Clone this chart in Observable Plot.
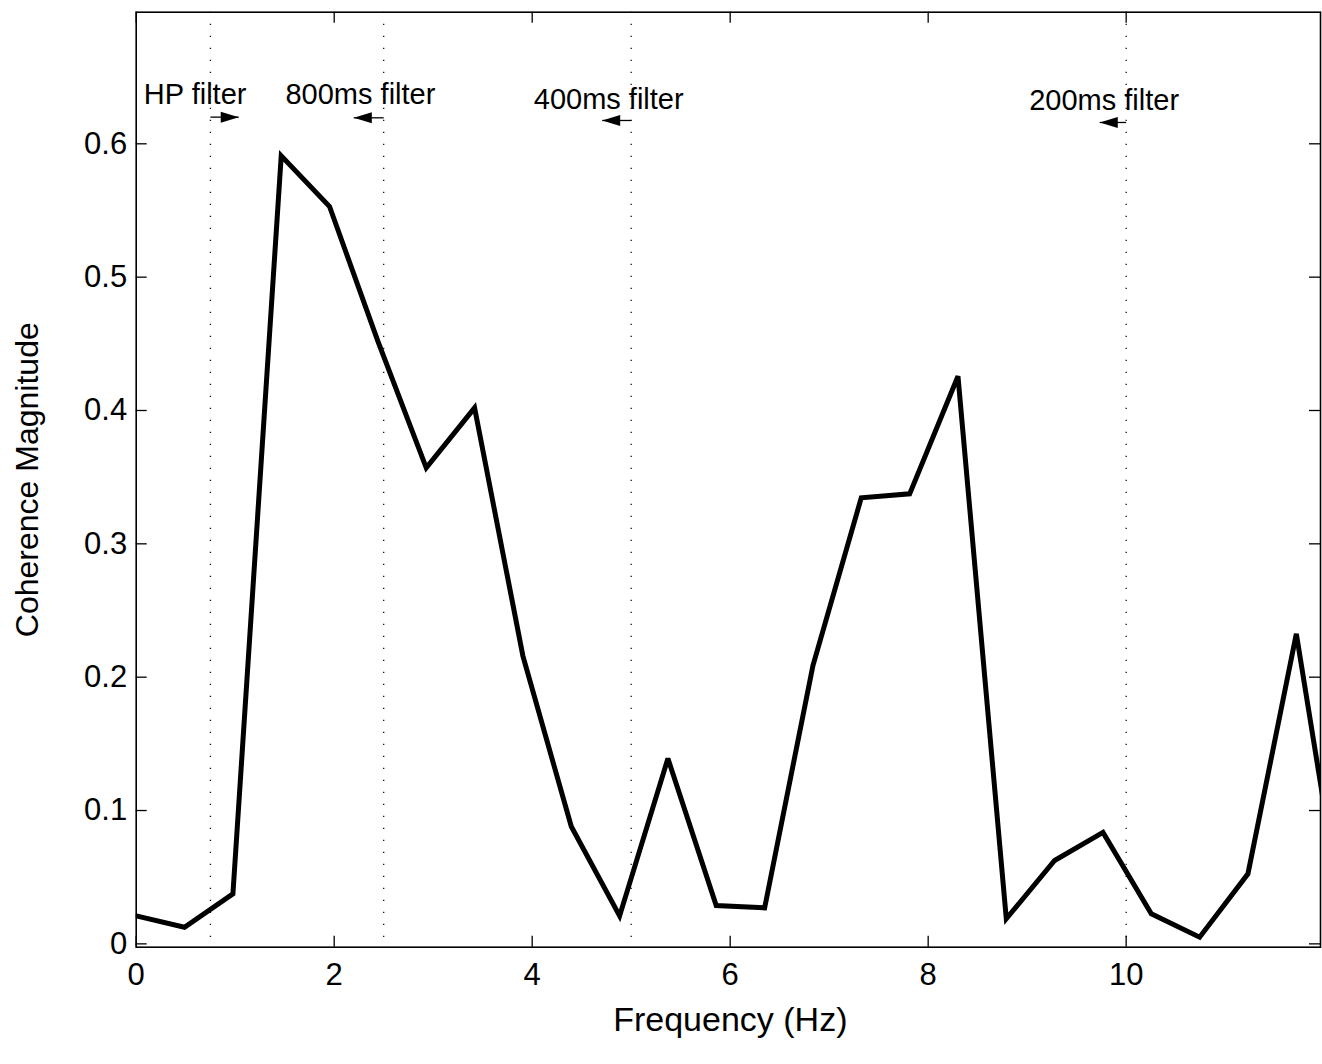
<!DOCTYPE html>
<html>
<head>
<meta charset="utf-8">
<script src="https://cdn.jsdelivr.net/npm/d3@7"></script>
<script src="https://cdn.jsdelivr.net/npm/@observablehq/plot@0.6"></script>
<style>
  html, body { margin: 0; padding: 0; background: #fff; }
  #chart svg { display: block; }
</style>
</head>
<body>
<div id="chart"></div>
<script>
// ---- data ----
const frequency = [0, 0.488, 0.977, 1.465, 1.953, 2.441, 2.930, 3.418, 3.906, 4.395,
  4.883, 5.371, 5.859, 6.348, 6.836, 7.324, 7.813, 8.301, 8.789, 9.277,
  9.766, 10.254, 10.742, 11.230, 11.719, 12.207];
const coherence = [0.021, 0.0125, 0.0375, 0.591, 0.553, 0.452, 0.357, 0.402, 0.216, 0.088,
  0.021, 0.139, 0.0287, 0.027, 0.2087, 0.3345, 0.3375, 0.4257, 0.0188, 0.0625,
  0.0836, 0.0225, 0.005, 0.0525, 0.2325, 0.008];

const filterCutoffs = [0.75, 2.5, 5, 10];
const filterLabels = ["HP filter", "800ms filter", "400ms filter", "200ms filter"];
const labelX = [0.077, 1.508, 4.016, 9.02];
const labelY = [0.6295, 0.6295, 0.6263, 0.625];
const arrowTipX = [1.036, 2.198, 4.707, 9.733];
const arrowY = [0.620, 0.6195, 0.6175, 0.616];
const arrowDir = ["right", "left", "left", "left"];

const xTicks = [0, 2, 4, 6, 8, 10];
const yTicks = [0, 0.1, 0.2, 0.3, 0.4, 0.5, 0.6];
const xLabel = "Frequency (Hz)";
const yLabel = "Coherence Magnitude";

// ---- tables built from the arrays ----
const series = frequency.map((f, i) => ({f, c: coherence[i]}));
const filters = filterCutoffs.map((x, i) => ({
  x, label: filterLabels[i], lx: labelX[i], ly: labelY[i],
  tip: arrowTipX[i], ay: arrowY[i], dir: arrowDir[i]
}));

const W = 1322, H = 1064;
const mL = 135.7, mR = 2, mT = 11.7, mB = 117.3;
const innerH = H - mT - mB, innerW = W - mL - mR;
const TICK = 11;
const FONT = "'Liberation Sans', Arial, Helvetica, sans-serif";

const headRight = {draw(ctx) { ctx.moveTo(0, 0); ctx.lineTo(-18, -5.5); ctx.lineTo(-18, 5.5); ctx.closePath(); }};
const headLeft = {draw(ctx) { ctx.moveTo(0, 0); ctx.lineTo(18, -5.5); ctx.lineTo(18, 5.5); ctx.closePath(); }};

const chart = Plot.plot({
  width: W, height: H,
  marginLeft: mL, marginRight: mR, marginTop: mT, marginBottom: mB,
  style: {fontFamily: FONT, color: "black", background: "white"},
  x: {domain: [0, 11.963]},
  y: {domain: [-0.0025, 0.6987]},
  marks: [
    // dotted filter cutoffs
    Plot.ruleX(filters, {x: "x", stroke: "#111", strokeWidth: 1.3, strokeDasharray: "1.3,10.7"}),
    // data line
    Plot.line(series, {x: "f", y: "c", stroke: "black", strokeWidth: 5, strokeLinejoin: "miter", strokeMiterlimit: 3, clip: true}),
    // arrows
    Plot.link(filters, {x1: "x", x2: "tip", y1: "ay", y2: "ay", stroke: "black", strokeWidth: 1.3}),
    Plot.dot(filters.filter(d => d.dir === "right"), {x: "tip", y: "ay", symbol: headRight, fill: "black", stroke: "none"}),
    Plot.dot(filters.filter(d => d.dir === "left"), {x: "tip", y: "ay", symbol: headLeft, fill: "black", stroke: "none"}),
    // annotation labels
    Plot.text(filters, {x: "lx", y: "ly", text: "label", textAnchor: "start", lineAnchor: "bottom", fontSize: 29, fill: "black"}),
    // frame
    Plot.frame({stroke: "black", strokeWidth: 1.6}),
    // inward ticks, all four sides
    Plot.ruleX(xTicks, {x: d => d, insetTop: innerH - TICK, stroke: "black", strokeWidth: 1.3}),
    Plot.ruleX(xTicks, {x: d => d, insetBottom: innerH - TICK, stroke: "black", strokeWidth: 1.3}),
    Plot.ruleY(yTicks, {y: d => d, insetRight: innerW - TICK, stroke: "black", strokeWidth: 1.3}),
    Plot.ruleY(yTicks, {y: d => d, insetLeft: innerW - TICK, stroke: "black", strokeWidth: 1.3}),
    // tick labels
    Plot.axisX({ticks: xTicks, tickSize: 0, tickPadding: 16, fontSize: 31, tickFormat: d => String(d), label: null}),
    Plot.axisY({ticks: yTicks, tickSize: 0, tickPadding: 9, fontSize: 31, tickFormat: d => String(d), label: null}),
    // axis titles
    Plot.text([xLabel], {frameAnchor: "bottom", text: d => d, dx: 2, dy: 84, textAnchor: "middle", lineAnchor: "bottom", fontSize: 34, fill: "black"}),
    Plot.text([yLabel], {frameAnchor: "left", text: d => d, dx: -108, rotate: -90, textAnchor: "middle", lineAnchor: "middle", fontSize: 32, fill: "black"})
  ]
});
document.getElementById("chart").appendChild(chart);
</script>
</body>
</html>
